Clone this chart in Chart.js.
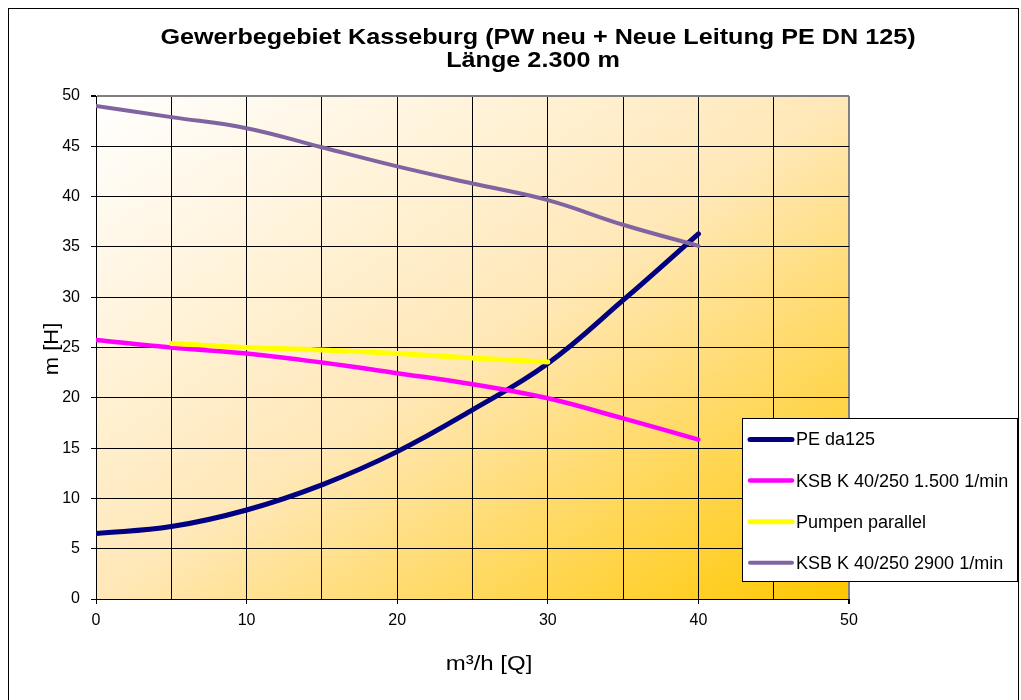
<!DOCTYPE html>
<html><head><meta charset="utf-8">
<script src="https://cdn.jsdelivr.net/npm/chart.js@4.4.1/dist/chart.umd.min.js"></script>
<style>html,body{margin:0;padding:0;background:#fff;}canvas{display:block;}</style>
</head><body>
<canvas id="c" width="1021" height="700"></canvas>
<script>
const titleLines = ['Gewerbegebiet Kasseburg (PW neu + Neue Leitung PE DN 125)', 'Länge 2.300 m'];
const xTitle = 'm³/h [Q]';
const yTitle = 'm [H]';
const flowQ = [0, 5, 10, 15, 20, 25, 30, 35, 40];
const peDa125 = [6.5, 7.2, 8.85, 11.35, 14.65, 18.8, 23.4, 29.7, 36.3];
const ksb1500 = [25.75, 25.0, 24.4, 23.5, 22.45, 21.35, 19.95, 17.95, 15.85];
const pumpenParallel = [null, 25.4, 25.0, 24.75, 24.4, 23.95, 23.55, null, null];
const ksb2900 = [49.0, 47.9, 46.8, 44.9, 43.0, 41.3, 39.65, 37.2, 35.1];
const seriesNames = ['PE da125', 'KSB K 40/250 1.500 1/min', 'Pumpen parallel', 'KSB K 40/250 2900 1/min'];
const seriesColors = ['#000080', '#FF00FF', '#FFFF00', '#8064A2'];
const seriesWidths = [5, 4.5, 5, 4];
const xTickLabels = [0, 10, 20, 30, 40, 50];

const FONT = "'Liberation Sans', Arial, sans-serif";
const toPts = ys => flowQ.map((x, i) => ({x, y: ys[i]})).filter(p => p.y !== null);
const allSeries = [peDa125, ksb1500, pumpenParallel, ksb2900];

function stretchedText(ctx, text, cx, cy, sx, rot) {
  ctx.save();
  ctx.translate(cx, cy);
  if (rot) ctx.rotate(rot);
  ctx.scale(sx, 1);
  ctx.textAlign = 'center';
  ctx.fillText(text, 0, 0);
  ctx.restore();
}

const bgPlugin = {
  id: 'bg',
  beforeDraw(chart) {
    const {ctx, chartArea: a} = chart;
    const cx = (a.left + a.right) / 2, cy = (a.top + a.bottom) / 2;
    const w = a.right - a.left, h = a.bottom - a.top;
    const len = Math.hypot(h, w);
    const ux = h / len, uy = w / len;
    const k = ((w / 2) * h + (h / 2) * w) / len;
    const g = ctx.createLinearGradient(cx - ux * k, cy - uy * k, cx + ux * k, cy + uy * k);
    g.addColorStop(0, '#FFFFFF');
    g.addColorStop(0.5, '#FFE8B8');
    g.addColorStop(1, '#FFC800');
    ctx.save();
    ctx.fillStyle = '#FFFFFF';
    ctx.fillRect(0, 0, chart.width, chart.height);
    ctx.fillStyle = g;
    ctx.fillRect(a.left, a.top, w, h);
    ctx.strokeStyle = '#000';
    ctx.lineWidth = 1;
    ctx.strokeRect(8.5, 8.5, 1010, 720);
    ctx.fillStyle = '#000';
    ctx.font = 'bold 22px ' + FONT;
    ctx.textBaseline = 'alphabetic';
    stretchedText(ctx, titleLines[0], 538, 44, 1.145, 0);
    stretchedText(ctx, titleLines[1], 533, 67, 1.145, 0);
    ctx.font = '20px ' + FONT;
    ctx.textBaseline = 'middle';
    stretchedText(ctx, xTitle, 489, 664, 1.2, 0);
    stretchedText(ctx, yTitle, 52.5, 349, 1.1, -Math.PI / 2);
    ctx.restore();
  }
};

const legendPlugin = {
  id: 'boxLegend',
  afterDraw(chart) {
    const {ctx} = chart;
    const bx = 742.5, by = 418.5, bw = 275, bh = 163;
    ctx.save();
    ctx.fillStyle = '#FFFFFF';
    ctx.fillRect(bx, by, bw, bh);
    ctx.strokeStyle = '#000';
    ctx.lineWidth = 1;
    ctx.strokeRect(bx, by, bw, bh);
    ctx.font = '18px ' + FONT;
    ctx.textAlign = 'left';
    ctx.textBaseline = 'middle';
    chart.data.datasets.forEach((ds, i) => {
      const y = 439.5 + i * 41.1;
      ctx.strokeStyle = ds.borderColor;
      ctx.lineWidth = ds.borderWidth;
      ctx.lineCap = 'round';
      ctx.beginPath();
      ctx.moveTo(750, y);
      ctx.lineTo(792, y);
      ctx.stroke();
      ctx.fillStyle = '#000';
      ctx.fillText(ds.label, 796, y + 1);
    });
    ctx.restore();
  }
};

new Chart(document.getElementById('c'), {
  type: 'line',
  data: {
    datasets: allSeries.map((s, i) => ({
      label: seriesNames[i],
      data: toPts(s),
      borderColor: seriesColors[i],
      backgroundColor: seriesColors[i],
      borderWidth: seriesWidths[i],
      borderCapStyle: 'round',
      borderJoinStyle: 'round',
      pointRadius: 0,
      tension: 0.4,
      fill: false,
      order: 4 - i
    }))
  },
  options: {
    responsive: false,
    animation: false,
    devicePixelRatio: 1,
    layout: {padding: {left: 8, top: 96, right: 172, bottom: 0}},
    plugins: {legend: {display: false}, title: {display: false}, tooltip: {enabled: false}},
    scales: {
      x: {
        type: 'linear', min: 0, max: 50,
        afterFit(s) { s.height = 101; },
        ticks: {
          stepSize: 5, autoSkip: false, maxRotation: 0, padding: 7, color: '#000',
          font: {family: FONT, size: 16},
          callback: v => xTickLabels.includes(v) ? String(v) : ''
        },
        grid: {
          color: c => (c.tick && c.tick.value === 50) ? '#808080' : '#000',
          lineWidth: c => (c.tick && c.tick.value === 50) ? 2 : 1,
          tickLength: 5,
          tickColor: c => (c.tick && xTickLabels.includes(c.tick.value)) ? '#000' : 'rgba(0,0,0,0)'
        },
        border: {color: '#000', width: 1},
        title: {display: false, text: xTitle}
      },
      y: {
        type: 'linear', min: 0, max: 50,
        afterFit(s) { s.width = 88; },
        ticks: {stepSize: 5, padding: 11, color: '#000', font: {family: FONT, size: 16}},
        grid: {
          color: c => (c.tick && c.tick.value === 50) ? '#808080' : '#000',
          lineWidth: c => (c.tick && c.tick.value === 50) ? 2 : 1,
          tickLength: 5,
          tickColor: '#000'
        },
        border: {color: '#000', width: 1},
        title: {display: false, text: yTitle}
      }
    }
  },
  plugins: [bgPlugin, legendPlugin]
});
</script>
</body></html>
